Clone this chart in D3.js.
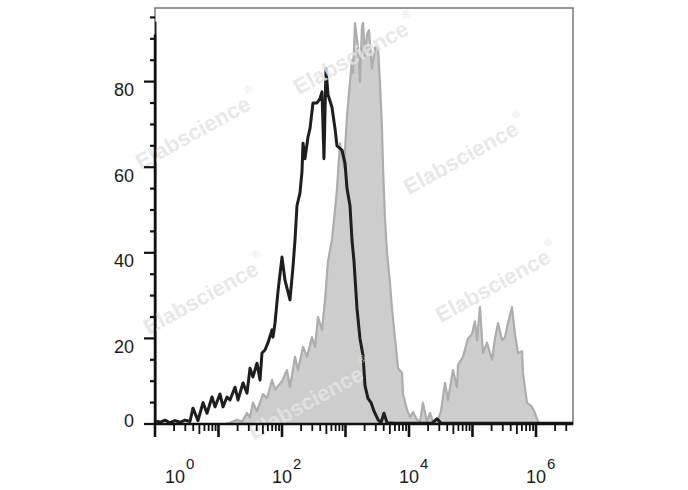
<!DOCTYPE html>
<html><head><meta charset="utf-8">
<script src="https://cdn.jsdelivr.net/npm/d3@7"></script>
<style>
html,body{margin:0;padding:0;background:#fff;}
text{font-family:"Liberation Sans",Arial,Helvetica,sans-serif;}
</style>
</head><body>
<svg id="chart" width="688" height="490"></svg>
<script>
// ---- data (x values as log10 of fluorescence intensity, y as count) ----
const blackLog = [0,0,0.079,0.157,0.236,0.315,0.394,0.472,0.551,0.598,0.677,0.756,0.819,0.898,0.945,1.024,1.071,1.134,1.181,1.260,1.307,1.386,1.449,1.496,1.543,1.606,1.654,1.685,1.732,1.780,1.843,1.858,1.890,1.937,2.000,2.047,2.126,2.173,2.205,2.236,2.283,2.315,2.331,2.362,2.409,2.441,2.488,2.551,2.598,2.630,2.661,2.693,2.724,2.787,2.835,2.866,2.945,2.992,3.024,3.071,3.102,3.134,3.181,3.228,3.276,3.307,3.354,3.402,3.449,3.512,3.559,3.606,3.654,3.780,4.016,4.362,4.441,4.504,6.583];
const blackCount = [94,0.8,0.4,0.9,0.3,0.8,0.4,0.9,0.6,3.7,0.8,5.0,2.5,6.3,4.0,7.0,4.0,6.3,5.6,8.6,5.6,9.6,7.2,13.0,11.0,14.2,10.3,16.6,17.3,19.0,22.0,20.3,23.6,31.0,39.0,33.6,29.0,36.7,43.0,51.0,54.0,59.0,65.6,62.0,67.0,69.0,75.0,75.0,76.0,77.6,62.0,83.0,77.0,74.0,69.0,65.0,64.0,61.0,55.0,51.0,43.0,38.0,27.0,20.0,16.0,9.0,6.0,5.0,3.0,1.0,0.3,2.5,0.3,0.2,0.2,0.2,1.2,0.2,0.2];
const greyLog = [1.102,1.181,1.291,1.370,1.449,1.496,1.543,1.606,1.701,1.764,1.843,1.890,2.000,2.079,2.126,2.205,2.252,2.331,2.394,2.472,2.520,2.567,2.630,2.677,2.724,2.787,2.835,2.866,2.913,2.976,3.024,3.071,3.102,3.118,3.150,3.197,3.228,3.260,3.276,3.307,3.339,3.370,3.417,3.465,3.512,3.543,3.575,3.591,3.622,3.654,3.701,3.732,3.780,3.827,3.890,3.906,3.969,4.016,4.063,4.126,4.173,4.220,4.283,4.331,4.378,4.441,4.504,4.567,4.614,4.693,4.756,4.772,4.850,4.929,4.992,5.039,5.071,5.118,5.165,5.228,5.307,5.354,5.402,5.465,5.512,5.559,5.622,5.669,5.717,5.780,5.795,5.858,5.937,5.984,6.031,6.079];
const greyCount = [0,0.3,1,0.5,2.6,1.5,5,3,7,6,10.3,8,10,12.6,8.6,15.7,12.6,18,15.7,20.3,18,25,22,29,38,43,50,55,65.6,60,72,80,85,82,93.7,88,80,92.8,93.7,86,91,92,83,88,88,79.6,69,60,48,40,33,27,20,13,12,7,3.3,1.6,2.8,1,0.5,5,0.5,2.6,0.5,0.3,3,9.6,5.6,12.6,8.6,13.8,15.7,20,21,24,19.6,27.3,16.6,19,15,20,23.6,19.6,20.3,23.6,27.3,21,16.6,17,12,5,4,2.6,0.5,0];
const yTickValues = [0,20,40,60,80];
const xTickExponents = [0,2,4,6];
const watermarkText = "Elabscience";

// ---- layout ----
const W = 688, H = 490;
const m = {left:155, top:8, right:115, bottom:66};
const svg = d3.select("#chart");
const x = d3.scaleLog().domain([1, Math.pow(10, 6.583)]).range([m.left, W - m.right]);
const y = d3.scaleLinear().domain([0, 97.2]).range([H - m.bottom, m.top]);

const black = blackLog.map((e,i)=>[Math.pow(10,e), blackCount[i]]);
const grey = greyLog.map((e,i)=>[Math.pow(10,e), greyCount[i]]);

svg.append("defs").append("clipPath").attr("id","clip")
  .append("rect").attr("x", m.left).attr("y", m.top)
  .attr("width", W - m.left - m.right).attr("height", H - m.top - m.bottom);

// frame
svg.append("rect").attr("x", m.left).attr("y", m.top)
  .attr("width", W - m.left - m.right).attr("height", H - m.top - m.bottom)
  .attr("fill","none").attr("stroke","#777").attr("stroke-width",1.5);

const plot = svg.append("g").attr("clip-path","url(#clip)");

// grey filled histogram
plot.append("path").datum(grey)
  .attr("d", d3.area().x(d=>x(d[0])).y0(y(0)).y1(d=>y(d[1])))
  .attr("fill","#cdcdcd").attr("stroke","#adadad").attr("stroke-width",2.2).attr("stroke-linejoin","round");

// watermarks
const wm = [[355,55],[197,130],[465,155],[205,295],[497,283],[310,400]];
wm.forEach(([cx,cy])=>{
  const t = svg.append("text")
    .attr("transform",`translate(${cx},${cy}) rotate(-29)`)
    .attr("text-anchor","middle").attr("dominant-baseline","central")
    .attr("font-size",22).attr("font-weight","bold")
    .attr("fill","#e4e4e4").attr("fill-opacity",0.85);
  t.append("tspan").text(watermarkText);
  t.append("tspan").attr("font-size",11).attr("font-weight","normal").attr("dy",-11).attr("dx",2).text("®");
});

// black histogram line
plot.append("path").datum(black)
  .attr("d", d3.line().x(d=>x(d[0])).y(d=>y(d[1])))
  .attr("fill","none").attr("stroke","#1e1e1e").attr("stroke-width",3).attr("stroke-linejoin","round");

// ---- y axis ----
const yMinor = d3.range(0, 96, 5);
const yAx = svg.append("g").attr("transform",`translate(${m.left},0)`);
yAx.append("line").attr("x1",0).attr("x2",0).attr("y1",y(91)).attr("y2",y(0)+1)
  .attr("stroke","#111").attr("stroke-width",2.5);
yAx.selectAll("line.tk").data(yMinor).join("line").attr("class","tk")
  .attr("x1", d => yTickValues.includes(d) ? -11 : -5).attr("x2",0)
  .attr("y1", d=>y(d)).attr("y2", d=>y(d))
  .attr("stroke","#111").attr("stroke-width",2.2);
yAx.selectAll("text").data(yTickValues).join("text")
  .attr("x",-21).attr("y", d => y(d) + (d===0 ? 3 : 14.5))
  .attr("text-anchor","end").attr("font-size",18).attr("fill","#1a1a1a")
  .text(d=>d);

// ---- x axis ----
const xAx = svg.append("g").attr("transform",`translate(0,${H - m.bottom})`);
xAx.append("line").attr("x1",m.left - 1).attr("x2",W - m.right).attr("y1",0).attr("y2",0)
  .attr("stroke","#111").attr("stroke-width",2.6);
const xMajor = d3.range(0,7).map(d=>Math.pow(10,d));
const xMinor = [];
for (let dd=0; dd<=6; dd++) for (let k=2;k<=9;k++){ const v=k*Math.pow(10,dd); if (v < x.domain()[1]) xMinor.push(v); }
xAx.selectAll("line.mj").data(xMajor).join("line").attr("class","mj")
  .attr("x1",d=>x(d)).attr("x2",d=>x(d)).attr("y1",0).attr("y2",13)
  .attr("stroke","#111").attr("stroke-width",2.6);
xAx.selectAll("line.mn").data(xMinor).join("line").attr("class","mn")
  .attr("x1",d=>x(d)).attr("x2",d=>x(d)).attr("y1",0)
  .attr("y2",d=> (Math.round(d/Math.pow(10,Math.floor(Math.log10(d)+1e-9)))===5 ? 10 : 7))
  .attr("stroke","#111").attr("stroke-width",1.8);
const lbl = xAx.selectAll("text").data(xTickExponents).join("text")
  .attr("x", d => x(Math.pow(10,d)) + (d===0 ? 10 : -10))
  .attr("y", 59).attr("font-size",18).attr("fill","#1a1a1a");
lbl.append("tspan").text("10");
lbl.append("tspan").attr("font-size",15).attr("dy",-14).attr("dx",1).text(d=>d);
</script>
</body></html>
